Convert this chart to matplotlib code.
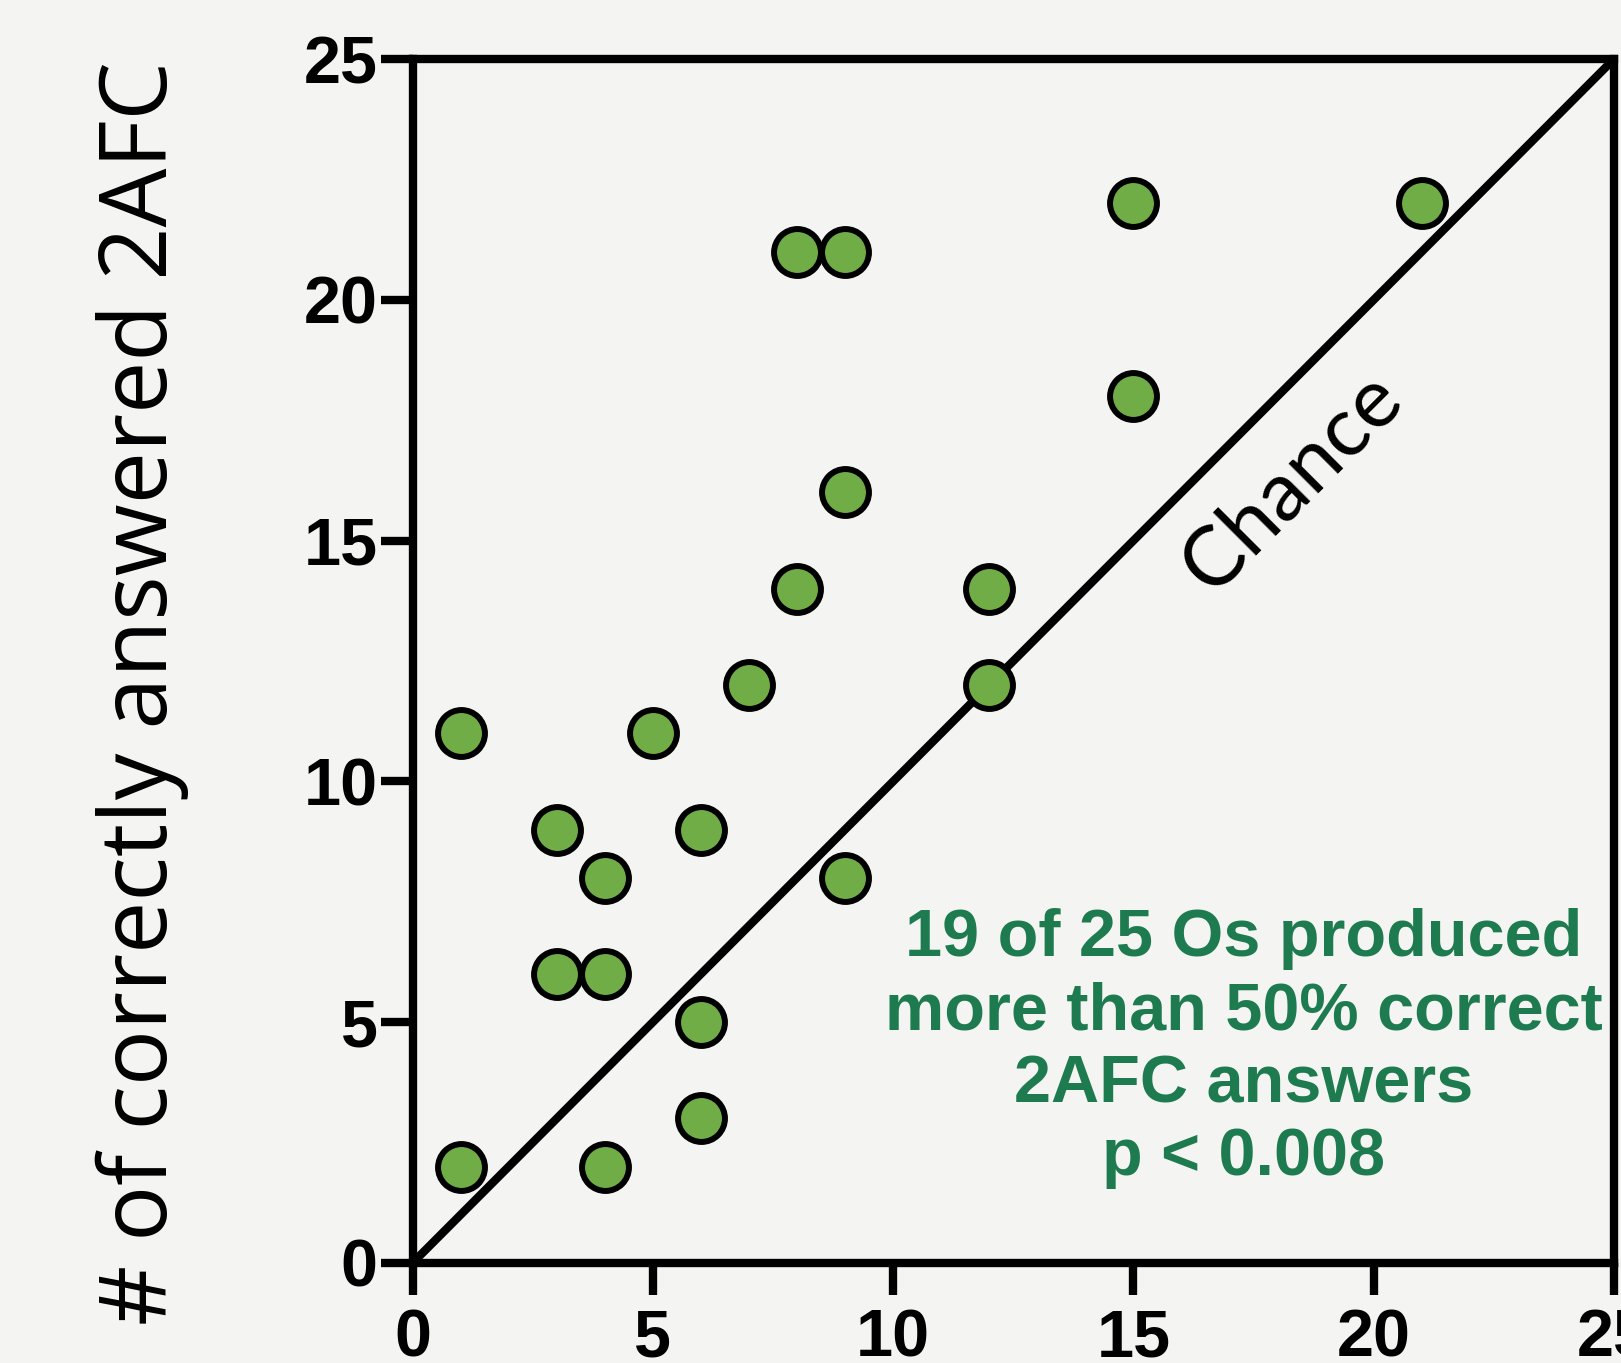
import matplotlib
matplotlib.use("Agg")
import matplotlib.pyplot as plt

# Data
x_vals = [1, 1, 3, 3, 4, 4, 4, 5, 6, 6, 6, 7, 8, 9, 8, 9, 9, 12, 12, 15, 15, 21]
y_vals = [11, 2, 9, 6, 8, 6, 2, 11, 9, 5, 3, 12, 21, 21, 14, 16, 8, 14, 12, 22, 18, 22]
chance_x = [0, 25]
chance_y = [0, 25]
ticks = [0, 5, 10, 15, 20, 25]
tick_labels = ["0", "5", "10", "15", "20", "25"]
ylabel = "# of correctly answered 2AFC"
note = "19 of 25 Os produced\nmore than 50% correct\n2AFC answers\np < 0.008"

bg = "#f4f4f2"
fig = plt.figure(figsize=(16.21, 13.63), dpi=100, facecolor=bg)
ax = fig.add_axes([0.2545, 0.0734, 0.7412, 0.8833])
ax.set_facecolor(bg)

ax.plot(chance_x, chance_y, color="black", lw=6, solid_capstyle="butt", zorder=2, clip_on=False)
ax.scatter(x_vals, y_vals, s=1140, facecolor="#70AD47", edgecolor="black", linewidths=4.3, zorder=3, clip_on=False)

ax.set_xlim(0, 25)
ax.set_ylim(0, 25)
ax.set_xticks(ticks)
ax.set_yticks(ticks)
ax.set_xticklabels(tick_labels)
ax.set_yticklabels(tick_labels)
for s in ax.spines.values():
    s.set_linewidth(6)
    s.set_color("black")
ax.tick_params(axis="both", direction="out", length=23, width=6, color="black",
               labelsize=48)
ax.tick_params(axis="x", pad=10)
ax.tick_params(axis="y", pad=2)
for lab in ax.get_xticklabels() + ax.get_yticklabels():
    lab.set_fontfamily(["Liberation Sans", "DejaVu Sans"])
    lab.set_fontweight("bold")

fig.text(142 / 1621, 1 - 693 / 1363, ylabel, rotation=90, ha="center", va="center",
         fontsize=67, fontfamily=["Open Sans", "DejaVu Sans"], fontweight="normal", color="black")

ax.text(18.3, 16.2, "Chance", rotation=45, rotation_mode="anchor", ha="center", va="center",
        fontsize=60, fontfamily=["Lato", "DejaVu Sans"], color="black", zorder=4)

ax.text(17.3, 4.45, note, ha="center", va="center", fontsize=48, fontweight="bold",
        fontfamily=["Liberation Sans Narrow", "Liberation Sans"], color="#1e7b50",
        linespacing=1.23, zorder=4)

fig.savefig("out.png", dpi=100, facecolor=bg)
